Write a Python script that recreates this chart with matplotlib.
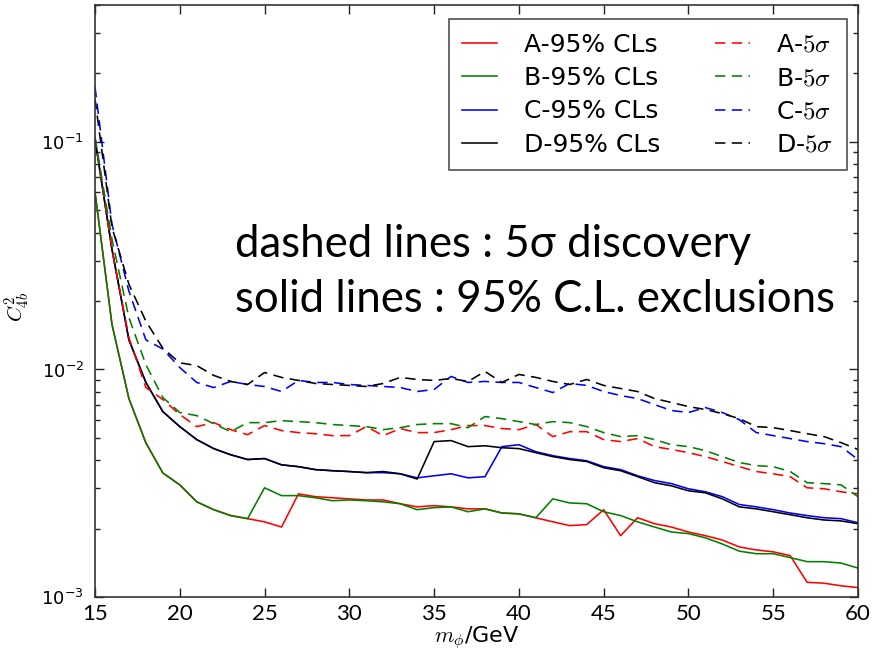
import numpy as np
import matplotlib
matplotlib.use("Agg")
import matplotlib.pyplot as plt
from matplotlib.ticker import LogLocator, FixedLocator

plt.rcParams['mathtext.fontset'] = 'cm'
plt.rcParams['font.family'] = ['DejaVu Sans']

mass = list(range(15, 61))

A_cls = [0.0603, 0.0158, 7.45e-3, 4.76e-3, 3.51e-3, 3.11e-3, 2.62e-3, 2.42e-3, 2.28e-3, 2.21e-3,
         2.14e-3, 2.03e-3, 2.84e-3, 2.76e-3, 2.73e-3, 2.70e-3, 2.67e-3, 2.67e-3, 2.57e-3, 2.49e-3,
         2.52e-3, 2.49e-3, 2.44e-3, 2.44e-3, 2.34e-3, 2.32e-3, 2.23e-3, 2.14e-3, 2.06e-3, 2.08e-3,
         2.42e-3, 1.86e-3, 2.23e-3, 2.10e-3, 2.03e-3, 1.93e-3, 1.86e-3, 1.78e-3, 1.66e-3, 1.61e-3,
         1.58e-3, 1.52e-3, 1.16e-3, 1.15e-3, 1.12e-3, 1.10e-3]
B_cls = [0.0603, 0.0158, 7.45e-3, 4.76e-3, 3.51e-3, 3.11e-3, 2.62e-3, 2.42e-3, 2.28e-3, 2.21e-3,
         3.02e-3, 2.79e-3, 2.79e-3, 2.73e-3, 2.65e-3, 2.67e-3, 2.65e-3, 2.62e-3, 2.57e-3, 2.42e-3,
         2.47e-3, 2.49e-3, 2.37e-3, 2.44e-3, 2.34e-3, 2.32e-3, 2.23e-3, 2.70e-3, 2.59e-3, 2.57e-3,
         2.37e-3, 2.28e-3, 2.14e-3, 2.03e-3, 1.93e-3, 1.90e-3, 1.82e-3, 1.71e-3, 1.59e-3, 1.55e-3,
         1.55e-3, 1.49e-3, 1.43e-3, 1.43e-3, 1.41e-3, 1.34e-3]
C_cls = [0.103, 0.0338, 0.0135, 8.77e-3, 6.53e-3, 5.61e-3, 4.92e-3, 4.49e-3, 4.22e-3, 4.02e-3,
         4.06e-3, 3.81e-3, 3.74e-3, 3.63e-3, 3.59e-3, 3.56e-3, 3.52e-3, 3.52e-3, 3.48e-3, 3.34e-3,
         3.41e-3, 3.48e-3, 3.34e-3, 3.38e-3, 4.58e-3, 4.67e-3, 4.35e-3, 4.18e-3, 4.06e-3, 3.97e-3,
         3.74e-3, 3.63e-3, 3.41e-3, 3.25e-3, 3.15e-3, 2.99e-3, 2.90e-3, 2.76e-3, 2.55e-3, 2.49e-3,
         2.42e-3, 2.34e-3, 2.28e-3, 2.23e-3, 2.21e-3, 2.12e-3]
D_cls = [0.103, 0.0338, 0.0135, 8.77e-3, 6.53e-3, 5.61e-3, 4.92e-3, 4.49e-3, 4.22e-3, 4.02e-3,
         4.06e-3, 3.81e-3, 3.74e-3, 3.63e-3, 3.59e-3, 3.56e-3, 3.52e-3, 3.56e-3, 3.48e-3, 3.30e-3,
         4.82e-3, 4.87e-3, 4.58e-3, 4.62e-3, 4.53e-3, 4.49e-3, 4.31e-3, 4.14e-3, 4.02e-3, 3.94e-3,
         3.70e-3, 3.59e-3, 3.38e-3, 3.18e-3, 3.08e-3, 2.93e-3, 2.87e-3, 2.70e-3, 2.49e-3, 2.44e-3,
         2.37e-3, 2.30e-3, 2.23e-3, 2.18e-3, 2.16e-3, 2.10e-3]

A_5s = [0.105, 0.0338, 0.0138, 8.33e-3, 7.38e-3, 6.34e-3, 5.61e-3, 5.84e-3, 5.44e-3, 5.17e-3,
        5.67e-3, 5.39e-3, 5.28e-3, 5.22e-3, 5.12e-3, 5.12e-3, 5.61e-3, 5.12e-3, 5.50e-3, 5.28e-3,
        5.28e-3, 5.44e-3, 5.67e-3, 5.67e-3, 5.50e-3, 5.44e-3, 5.73e-3, 5.07e-3, 5.33e-3, 5.33e-3,
        4.92e-3, 4.82e-3, 4.97e-3, 4.58e-3, 4.45e-3, 4.31e-3, 4.14e-3, 3.94e-3, 3.74e-3, 3.56e-3,
        3.48e-3, 3.38e-3, 3.02e-3, 2.99e-3, 2.90e-3, 2.84e-3]
B_5s = [0.105, 0.0374, 0.0169, 0.0105, 7.53e-3, 6.47e-3, 6.27e-3, 5.78e-3, 5.33e-3, 5.84e-3,
        5.84e-3, 5.96e-3, 5.90e-3, 5.84e-3, 5.73e-3, 5.67e-3, 5.61e-3, 5.44e-3, 5.55e-3, 5.73e-3,
        5.78e-3, 5.78e-3, 5.55e-3, 6.21e-3, 6.08e-3, 5.90e-3, 5.73e-3, 5.90e-3, 5.84e-3, 5.61e-3,
        5.28e-3, 5.07e-3, 5.12e-3, 4.92e-3, 4.67e-3, 4.58e-3, 4.40e-3, 4.14e-3, 3.90e-3, 3.78e-3,
        3.74e-3, 3.56e-3, 3.18e-3, 3.15e-3, 3.11e-3, 2.76e-3]
C_5s = [0.1746, 0.0435, 0.0221, 0.0135, 0.0123, 0.0102, 8.77e-3, 8.33e-3, 8.86e-3, 8.59e-3,
        8.42e-3, 8.00e-3, 8.95e-3, 8.77e-3, 8.77e-3, 8.59e-3, 8.51e-3, 8.42e-3, 8.33e-3, 8.00e-3,
        8.17e-3, 9.32e-3, 8.77e-3, 8.86e-3, 8.77e-3, 8.77e-3, 8.33e-3, 7.92e-3, 8.68e-3, 8.51e-3,
        8.00e-3, 7.68e-3, 7.45e-3, 7.01e-3, 6.60e-3, 6.47e-3, 6.80e-3, 6.47e-3, 6.02e-3, 5.28e-3,
        5.12e-3, 4.97e-3, 4.82e-3, 4.72e-3, 4.58e-3, 4.02e-3]
D_5s = [0.1545, 0.0422, 0.0237, 0.0163, 0.0124, 0.0107, 0.0104, 9.42e-3, 8.86e-3, 8.59e-3,
        9.70e-3, 9.23e-3, 8.95e-3, 8.68e-3, 8.59e-3, 8.51e-3, 8.42e-3, 8.68e-3, 9.23e-3, 9.04e-3,
        8.95e-3, 9.13e-3, 8.86e-3, 9.80e-3, 8.77e-3, 9.51e-3, 9.23e-3, 8.86e-3, 8.59e-3, 9.04e-3,
        8.51e-3, 8.25e-3, 8.00e-3, 7.45e-3, 7.16e-3, 6.87e-3, 6.67e-3, 6.40e-3, 6.08e-3, 5.61e-3,
        5.55e-3, 5.39e-3, 5.22e-3, 5.07e-3, 4.77e-3, 4.45e-3]

labels_cls = ['A-95% CLs', 'B-95% CLs', 'C-95% CLs', 'D-95% CLs']
labels_5s = [r'A-$5\sigma$', r'B-$5\sigma$', r'C-$5\sigma$', r'D-$5\sigma$']
colors = ['#ff0000', '#008000', '#0000ff', '#000000']
xticks = [15, 20, 25, 30, 35, 40, 45, 50, 55, 60]

W, H = 875, 656
fig = plt.figure(figsize=(W / 100, H / 100), dpi=100)
ax = fig.add_axes([95 / W, 1 - 597 / H, (858 - 95) / W, (597 - 5) / H])

lw = 1.15
dash = (6.5, 4)
handles_cls = []
handles_5s = []
for ys, lab, c in zip([A_cls, B_cls, C_cls, D_cls], labels_cls, colors):
    h, = ax.plot(mass, ys, color=c, lw=lw, label=lab)
    handles_cls.append(h)
for ys, lab, c in zip([A_5s, B_5s, C_5s, D_5s], labels_5s, colors):
    h, = ax.plot(mass, ys, color=c, lw=lw, ls='--', dashes=dash, label=lab)
    handles_5s.append(h)

ax.set_yscale('log')
ax.set_xlim(15, 60)
ax.set_ylim(1e-3, 0.4)
ax.xaxis.set_major_locator(FixedLocator(xticks))
ax.yaxis.set_major_locator(LogLocator(base=10, numticks=10))
ax.yaxis.set_minor_locator(LogLocator(base=10, subs=np.arange(2, 10), numticks=20))
ax.tick_params(which='both', direction='in', top=True, right=True, width=1.0, color='#222222')
ax.tick_params(which='major', length=6.5)
ax.tick_params(which='minor', length=3.5)
ax.tick_params(axis='y', labelsize=13, pad=8)
ax.tick_params(axis='x', labelsize=16, pad=5)
for t in ax.get_xticklabels():
    t.set_family(['Lato', 'DejaVu Sans'])
for s in ax.spines.values():
    s.set_linewidth(1.2)
    s.set_color('#333333')

ax.set_xlabel(r'$m_\phi$/GeV', fontsize=16, labelpad=0)
ax.set_ylabel(r'$C^2_{4b}$', fontsize=15)
ax.yaxis.set_label_coords((32 - 95) / 763, 0.49)

leg = ax.legend(handles_cls + handles_5s, labels_cls + labels_5s, ncol=2,
                loc='upper right', bbox_to_anchor=(847 / W, 1 - 19 / H),
                bbox_transform=fig.transFigure, fontsize=18, frameon=True,
                fancybox=False, handlelength=1.4, handletextpad=1.05,
                columnspacing=2.2, labelspacing=0.37, borderpad=0.55,
                borderaxespad=0)
leg.get_frame().set_edgecolor('#222222')
leg.get_frame().set_linewidth(1.2)

fig.text(235 / W, 1 - 257 / H, 'dashed lines : 5σ discovery', fontsize=31.5,
         family=['Lato', 'DejaVu Sans'], va='baseline', ha='left')
fig.text(235 / W, 1 - 312 / H, 'solid lines : 95% C.L. exclusions', fontsize=31.5,
         family=['Lato', 'DejaVu Sans'], va='baseline', ha='left')

fig.savefig('out.png', dpi=100)
